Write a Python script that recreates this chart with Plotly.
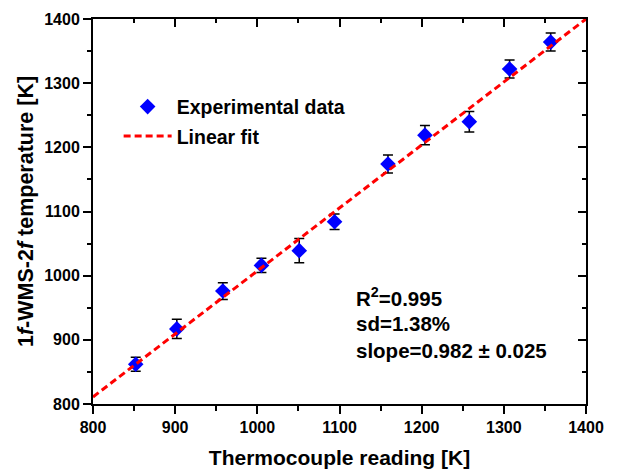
import plotly.graph_objects as go

# Data
thermo_K = [852, 902, 958, 1005, 1051, 1094, 1159, 1204, 1258, 1307, 1357]
wms_K = [862, 917, 976, 1016, 1039, 1084, 1174, 1219, 1240, 1322, 1364]
wms_err = [11, 15, 13, 11, 19, 12, 14, 15, 16, 14, 14]
fit_x = [800, 1400]
fit_y = [811, 1400]
x_ticks = [800, 900, 1000, 1100, 1200, 1300, 1400]
y_ticks = [800, 900, 1000, 1100, 1200, 1300, 1400]

FONT = "Liberation Sans, Arial, sans-serif"

fig = go.Figure()
fig.add_trace(go.Scatter(
    x=thermo_K, y=wms_K, mode="markers", name="Experimental data",
    legendgroup="a",
    marker=dict(symbol="diamond", size=12, color="#0000FF"),
    error_y=dict(type="data", array=wms_err, visible=True, color="black",
                 thickness=1.5, width=5),
    xaxis="x", yaxis="y",
))
fig.add_trace(go.Scatter(
    x=fit_x, y=fit_y, mode="lines", name="Linear fit", legendgroup="b",
    line=dict(color="#FF0000", width=3, dash="7px,4px"),
    xaxis="x2", yaxis="y2",
))

axis_common = dict(
    range=[800, 1400], showgrid=False, zeroline=False, automargin=False,
    linecolor="black", linewidth=2, tickcolor="black", tickwidth=2,
)
fig.update_layout(
    width=630, height=470,
    margin=dict(l=93, r=44, t=19, b=66, autoexpand=False),
    plot_bgcolor="white", paper_bgcolor="white",
    font=dict(family=FONT, color="black", size=16, weight="bold"),
    showlegend=True,
    legend=dict(x=0.052, y=0.734, xanchor="left", yanchor="middle",
                bgcolor="rgba(0,0,0,0)", font=dict(size=19.5, weight="bold"),
                traceorder="grouped", tracegroupgap=1, itemwidth=48),
    xaxis=dict(**axis_common, tickvals=x_ticks, ticks="outside", ticklen=8,
               mirror=True,
               minor=dict(dtick=50, ticks="outside", ticklen=5,
                          tickcolor="black", tickwidth=2),
               tickfont=dict(size=16, weight="bold"),
               title=dict(text="Thermocouple reading [K]",
                          font=dict(size=21, weight="bold"))),
    yaxis=dict(**axis_common, tickvals=y_ticks, ticks="outside", ticklen=8,
               mirror=True,
               minor=dict(dtick=50, ticks="outside", ticklen=4,
                          tickcolor="black", tickwidth=2),
               tickfont=dict(size=16, weight="bold"),
               title=dict(text="1<i>f</i>-WMS-2<i>f</i> temperature [K]",
                          font=dict(size=21.5, weight="bold"), standoff=5)),
    xaxis2=dict(**axis_common, overlaying="x", side="top", tickvals=x_ticks,
                ticks="inside", ticklen=8, showticklabels=False,
                minor=dict(dtick=50, ticks="inside", ticklen=4,
                           tickcolor="black", tickwidth=2)),
    yaxis2=dict(**axis_common, overlaying="y", side="right", tickvals=y_ticks,
                ticks="inside", ticklen=8, showticklabels=False,
                minor=dict(dtick=50, ticks="inside", ticklen=4,
                           tickcolor="black", tickwidth=2)),
)

ann_font = dict(size=20.5, weight="bold", color="black")
for txt, yv in [("R<sup>2</sup>=0.995", 967),
                ("sd=1.38%", 925),
                ("slope=0.982 \u00b1 0.025", 884)]:
    fig.add_annotation(x=1118, y=yv, xref="x", yref="y", text=txt,
                       showarrow=False, xanchor="left", yanchor="middle",
                       font=ann_font)

fig.write_html("out.html",
               config={"displayModeBar": False},
               post_script="document.body.style.margin='0';"
                           "document.body.style.overflow='hidden';")
